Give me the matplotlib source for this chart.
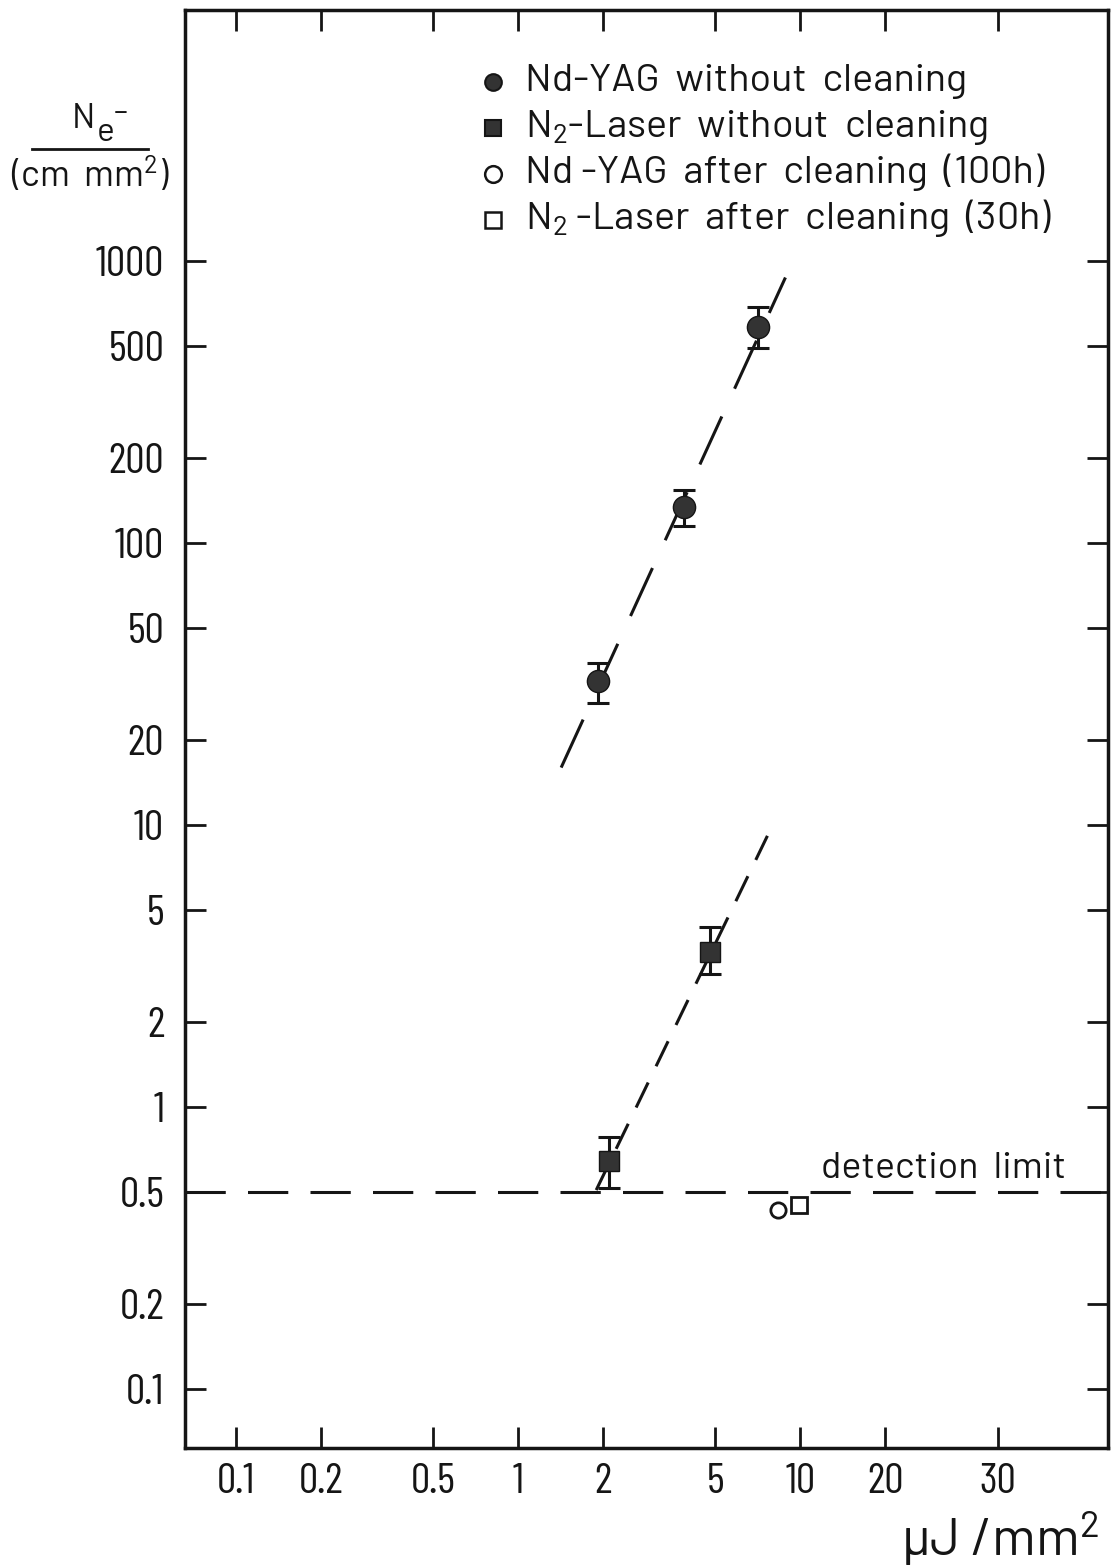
import numpy as np
import matplotlib
matplotlib.use("Agg")
import matplotlib.pyplot as plt
from matplotlib.lines import Line2D

TEXT_FONT = ["Barlow", "Barlow Semi Condensed", "Liberation Sans", "DejaVu Sans"]
TICK_FONT = ["Barlow Condensed", "Barlow Semi Condensed", "Liberation Sans Narrow", "DejaVu Sans"]
plt.rcParams["font.family"] = TEXT_FONT
plt.rcParams["lines.scale_dashes"] = False

INK = "#151515"

# Nd-YAG without cleaning (fluence in uJ/mm^2, electrons per cm mm^2)
yag_x = [1.92, 3.86, 7.05]
yag_y = [32.5, 135, 587]
yag_lo = [27.2, 115, 494]
yag_hi = [37.7, 154, 692]

# N2-laser without cleaning
n2_x = [2.10, 4.77]
n2_y = [0.643, 3.55]
n2_lo = [0.516, 2.97]
n2_hi = [0.782, 4.35]

# after cleaning
yag_clean_x = [8.3]
yag_clean_y = [0.432]
n2_clean_x = [9.9]
n2_clean_y = [0.45]

# dashed guide lines (end points)
yag_fit_x = [1.42, 8.85]
yag_fit_y = [16, 877]
n2_fit_x = [1.89, 7.64]
n2_fit_y = [0.507, 9.16]
det_limit = 0.5

x_ticks = [0.1, 0.2, 0.5, 1, 2, 5, 10, 20, 50]
x_labels = ["0.1", "0.2", "0.5", "1", "2", "5", "10", "20", "30"]
y_ticks = [0.1, 0.2, 0.5, 1, 2, 5, 10, 20, 50, 100, 200, 500, 1000]
y_labels = ["0.1", "0.2", "0.5", "1", "2", "5", "10", "20", "50", "100", "200", "500", "1000"]

legend_labels = [r"Nd-YAG  without  cleaning",
                 r"N$\mathregular{_2}$-Laser  without  cleaning",
                 r"Nd -YAG  after  cleaning  (100h)",
                 r"N$\mathregular{_2}$ -Laser  after  cleaning  (30h)"]

fig = plt.figure(figsize=(11.12, 15.68), dpi=100)
ax = fig.add_axes([0.1664, 0.0765, 0.8300, 0.9171])
ax.set_xscale("log")
ax.set_yscale("log")
ax.set_xlim(0.066, 123)
ax.set_ylim(0.0616, 7800)

# guide lines
ax.plot(yag_fit_x, yag_fit_y, color=INK, lw=2.2, dashes=(38, 22))
ax.plot(n2_fit_x, n2_fit_y, color=INK, lw=2.2, dashes=(20, 13))
ax.plot([0.066, 123], [det_limit, det_limit], color=INK, lw=2.2, dashes=(29, 16))

# data with error bars
yag_err = [np.subtract(yag_y, yag_lo), np.subtract(yag_hi, yag_y)]
n2_err = [np.subtract(n2_y, n2_lo), np.subtract(n2_hi, n2_y)]
ax.errorbar(yag_x, yag_y, yerr=yag_err, fmt="o", ms=16, color=INK,
            mfc="#333333", mec=INK, ecolor=INK, elinewidth=2.2, capsize=8, capthick=2.2)
ax.errorbar(n2_x, n2_y, yerr=n2_err, fmt="s", ms=15, color=INK,
            mfc="#333333", mec=INK, ecolor=INK, elinewidth=2.2, capsize=8, capthick=2.2)
ax.plot(yag_clean_x, yag_clean_y, "o", ms=11, mfc="white", mec=INK, mew=2)
ax.plot(n2_clean_x, n2_clean_y, "s", ms=11, mfc="white", mec=INK, mew=2)

ax.text(11.8, 0.56, "detection  limit", fontsize=27, color=INK, ha="left", va="baseline")

# ticks
ax.set_xticks(x_ticks)
ax.set_xticklabels(x_labels, family=TICK_FONT)
ax.set_yticks(y_ticks)
ax.set_yticklabels(y_labels, family=TICK_FONT)
ax.minorticks_off()
ax.tick_params(which="major", direction="in", length=15, width=2, colors=INK,
               labelsize=31, top=True, right=True)
ax.tick_params(axis="y", pad=15)
ax.tick_params(axis="x", pad=11)
for s in ax.spines.values():
    s.set_linewidth(2.5)
    s.set_color(INK)

# legend, drawn by hand
leg_marks = [dict(marker="o", ms=12, mfc="#333333", mec=INK, mew=1.5),
             dict(marker="s", ms=12, mfc="#333333", mec=INK, mew=1.5),
             dict(marker="o", ms=12, mfc="white", mec=INK, mew=1.8),
             dict(marker="s", ms=12, mfc="white", mec=INK, mew=1.8)]
row_y = [0.9499, 0.9179, 0.8860, 0.8540]
for ry, mk, lab in zip(row_y, leg_marks, legend_labels):
    ax.plot([0.3337], [ry], ls="none", transform=ax.transAxes, clip_on=False, **mk)
    ax.text(0.3684, ry - 0.0060, lab, transform=ax.transAxes, fontsize=28.5,
            color=INK, ha="left", va="baseline")

# y-axis label as fraction
fig.text(0.0647, 0.9184, "N", fontsize=25, ha="left", va="baseline", color=INK)
fig.text(0.0872, 0.9100, "e", fontsize=24, ha="left", va="baseline", color=INK)
fig.text(0.1088, 0.9279, "\u2013", fontsize=22, ha="center", va="center", color=INK)
fig.add_artist(Line2D([0.0288, 0.1331], [0.9050, 0.9050], color=INK, lw=2))
fig.text(0.0809, 0.8807, r"(cm  mm$\mathregular{^2}$)", fontsize=26,
         ha="center", va="baseline", color=INK)

# x-axis label
fig.text(0.989, 0.0075, "\u00b5J /mm$\\mathregular{^2}$",
         fontsize=38, ha="right", va="baseline", color=INK)

fig.savefig("out.png", dpi=100)
